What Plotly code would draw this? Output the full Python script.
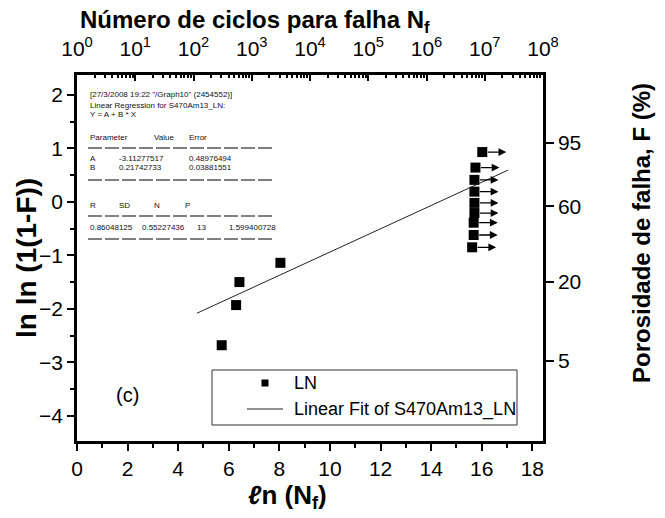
import numpy as np
import plotly.graph_objects as go

# Weibull plot: ln ln(1/(1-F)) versus ln(Nf)
ln_nf_fail = [5.72, 6.29, 6.42, 8.04]
lnln_fail = [-2.68, -1.93, -1.50, -1.14]

# run-outs (specimens that did not fail), drawn with arrows
ln_nf_runout = [16.02, 15.75, 15.71, 15.71, 15.71, 15.71, 15.68, 15.68, 15.62]
lnln_runout = [0.93, 0.64, 0.41, 0.19, -0.02, -0.21, -0.39, -0.62, -0.85]

# linear regression Y = A + B*X
fit_A = -3.11277517
fit_B = 0.21742733
fit_x_span = [4.74, 17.05]

# right axis: failure probability F (%)
prob_ticks = [95, 60, 20, 5]
# top axis: number of cycles, decades
cycle_decades = list(range(0, 9))

regression_report = [
    ("[27/3/2008 19:22 \"/Graph10\" (2454552)]", 88, 95),
    ("Linear Regression for S470Am13_LN:", 88, 105),
    ("Y = A + B * X", 88, 114),
    ("Parameter", 88, 137), ("Value", 152, 137), ("Error", 187, 137),
    ("A", 88, 158), ("-3.11277517", 117, 158), ("0.48976494", 187, 158),
    ("B", 88, 167), ("0.21742733", 117, 167), ("0.03881551", 187, 167),
    ("R", 88, 206), ("SD", 117, 206), ("N", 152, 206), ("P", 183, 206),
    ("0.86048125", 88, 227), ("0.55227436", 140, 227), ("13", 195, 227),
    ("1.599400728", 227, 227),
]
report_rules = [148, 180, 216, 239]

legend_labels = ["LN", "Linear Fit of S470Am13_LN"]

W, H = 665, 518
L, R, T, B = 77, 122, 75, 77
PW, PH = W - L - R, H - T - B
X_MAX = np.log(1e8)
Y_RANGE = [-4.47, 2.37]
FONT = "Arial, Liberation Sans, sans-serif"


def px(xp):
    return (xp - L) / PW


def py(yp):
    return (H - B - yp) / PH


fig = go.Figure()

fx = np.array(fit_x_span)
fig.add_trace(go.Scatter(
    x=ln_nf_fail + ln_nf_runout, y=lnln_fail + lnln_runout, mode="markers",
    marker=dict(symbol="square", size=10, color="black"), name=legend_labels[0]))
fig.add_trace(go.Scatter(
    x=fx, y=fit_A + fit_B * fx, mode="lines",
    line=dict(color="#222", width=1), name=legend_labels[1]))

# helper trace so the top/right axes are drawn
fig.add_trace(go.Scatter(x=[1, 1e8], y=Y_RANGE, xaxis="x2", yaxis="y2",
                         mode="markers", marker=dict(opacity=0),
                         showlegend=False, hoverinfo="skip"))

for xv, yv in zip(ln_nf_runout, lnln_runout):
    fig.add_annotation(x=xv + 0.95, y=yv, ax=xv, ay=yv, xref="x", yref="y",
                       axref="x", ayref="y", showarrow=True, arrowhead=2,
                       arrowsize=1.2, arrowwidth=1.3, arrowcolor="black",
                       startstandoff=4, text="")

for txt, xp, yp in regression_report:
    fig.add_annotation(x=px(xp), y=py(yp), xref="paper", yref="paper",
                       text=txt, showarrow=False, xanchor="left",
                       yanchor="middle", font=dict(family=FONT, size=8, color="#111"))
for yp in report_rules:
    fig.add_shape(type="line", xref="paper", yref="paper", x0=px(88), x1=px(273),
                  y0=py(yp), y1=py(yp), line=dict(color="black", width=1, dash="14px,3px"))

fig.add_annotation(x=2.0, y=-3.61, xref="x", yref="y", text="(c)", showarrow=False,
                   font=dict(family=FONT, size=20, color="black"))

# legend box drawn by hand
fig.add_shape(type="rect", xref="paper", yref="paper", x0=px(212), x1=px(517),
              y0=py(425), y1=py(370), line=dict(color="#333", width=1),
              fillcolor="white", layer="above")
fig.add_shape(type="rect", xref="paper", yref="paper", x0=px(261.5), x1=px(268.5),
              y0=py(386.5), y1=py(379.5), line=dict(color="black", width=0),
              fillcolor="black", layer="above")
fig.add_shape(type="line", xref="paper", yref="paper", x0=px(247), x1=px(283),
              y0=py(409), y1=py(409), line=dict(color="#222", width=1), layer="above")
for lbl, yp in zip(legend_labels, [383, 409]):
    fig.add_annotation(x=px(292), y=py(yp), xref="paper", yref="paper", text=lbl,
                       showarrow=False, xanchor="left", yanchor="middle",
                       font=dict(family=FONT, size=18, color="black"))

# axis titles
fig.add_annotation(x=px(255), y=py(22), xref="paper", yref="paper", showarrow=False,
                   xanchor="center", yanchor="middle",
                   text="<b>Número de ciclos para falha N<sub>f</sub></b>",
                   font=dict(family=FONT, size=24, color="black"))
fig.add_annotation(x=px(287), y=py(496), xref="paper", yref="paper", showarrow=False,
                   xanchor="center", yanchor="middle",
                   text="<b><i>ℓ</i>n (N<sub>f</sub>)</b>",
                   font=dict(family=FONT, size=26, color="black"))
fig.add_annotation(x=px(26), y=py(258), xref="paper", yref="paper", showarrow=False,
                   xanchor="center", yanchor="middle",
                   text="<b>ln ln (1(1-F))</b>", textangle=-90,
                   font=dict(family=FONT, size=28, color="black"))
fig.add_annotation(x=px(641), y=py(233), xref="paper", yref="paper", showarrow=False,
                   xanchor="center", yanchor="middle",
                   text="<b>Porosidade de falha, F (%)</b>", textangle=-90,
                   font=dict(family=FONT, size=24, color="black"))

tick_font = dict(family=FONT, size=21, color="black")
minor_log = [k * 10 ** d for d in range(0, 8) for k in range(2, 10)]
prob_pos = [float(np.log(-np.log(1 - p / 100))) for p in prob_ticks]

fig.update_layout(
    width=W, height=H, margin=dict(l=L, r=R, t=T, b=B),
    paper_bgcolor="white", plot_bgcolor="white",
    font=dict(family=FONT, color="black"),
    showlegend=False,
    xaxis=dict(range=[0, X_MAX], tickmode="array", tickvals=list(range(0, 19, 2)),
               ticks="outside", ticklen=7, tickwidth=2, tickcolor="black",
               minor=dict(tickvals=list(range(1, 19, 2)), ticks="outside",
                          ticklen=4, tickwidth=2, tickcolor="black"),
               showline=True, linewidth=2.5, linecolor="black", mirror=False,
               showgrid=False, zeroline=False, tickfont=tick_font),
    xaxis2=dict(type="log", range=[0, 8], overlaying="x", side="top", anchor="y",
                tickmode="array", tickvals=[10 ** d for d in cycle_decades],
                ticktext=[f"10<sup>{d}</sup>" for d in cycle_decades],
                ticks="inside", ticklen=6, tickwidth=2, tickcolor="black",
                ticklabelstandoff=8,
                minor=dict(tickvals=minor_log, ticks="inside", ticklen=3,
                           tickwidth=1.5, tickcolor="black"),
                showline=True, linewidth=2.5, linecolor="black",
                showgrid=False, zeroline=False, tickfont=tick_font),
    yaxis=dict(range=Y_RANGE, tickmode="array", tickvals=list(range(-4, 3)),
               ticks="outside", ticklen=7, tickwidth=2, tickcolor="black",
               minor=dict(tickvals=[v + 0.5 for v in range(-5, 3)], ticks="outside",
                          ticklen=4, tickwidth=2, tickcolor="black"),
               showline=True, linewidth=2.5, linecolor="black", mirror=False,
               showgrid=False, zeroline=False, tickfont=tick_font),
    yaxis2=dict(range=Y_RANGE, overlaying="y", side="right", anchor="x",
                tickmode="array", tickvals=prob_pos,
                ticktext=[str(p) for p in prob_ticks],
                ticks="outside", ticklen=8, tickwidth=2, tickcolor="black",
                showline=True, linewidth=2.5, linecolor="black",
                showgrid=False, zeroline=False, tickfont=tick_font),
)

fig.write_html("out.html")
